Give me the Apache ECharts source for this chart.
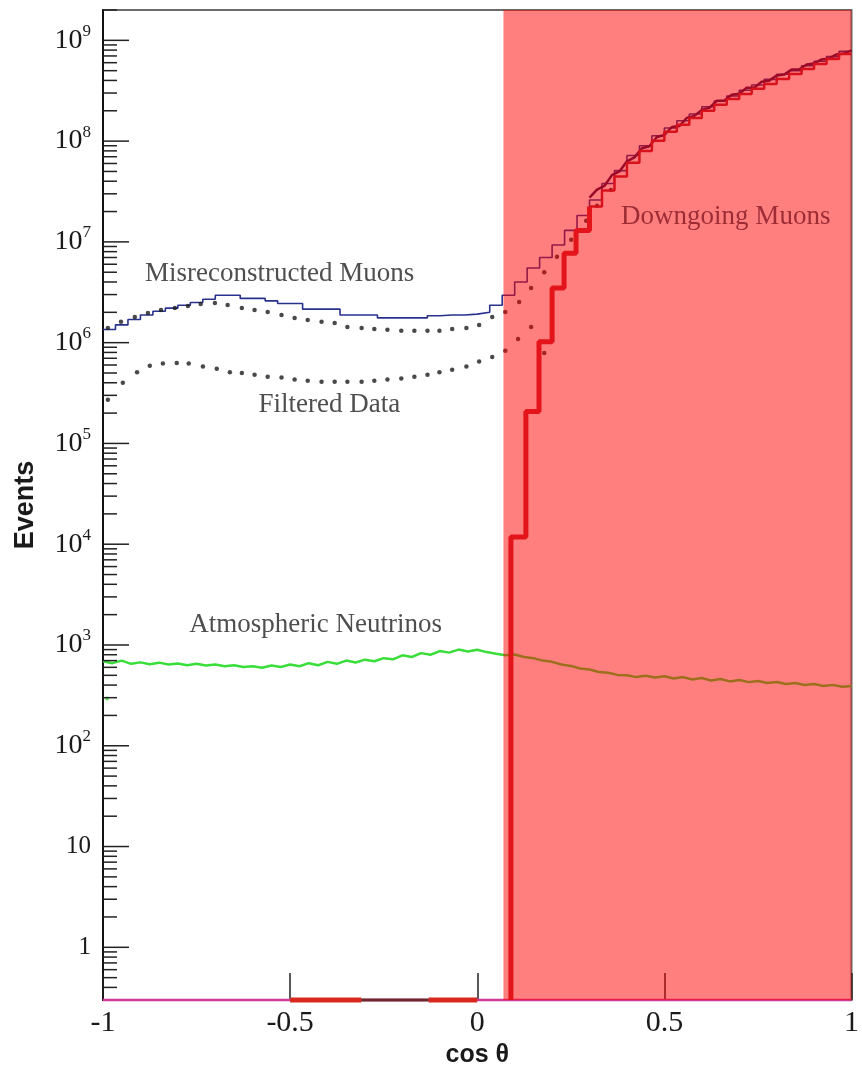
<!DOCTYPE html>
<html>
<head>
<meta charset="utf-8">
<script src="https://cdn.jsdelivr.net/npm/echarts@6/dist/echarts.min.js"></script>
<style>
  html, body { margin: 0; padding: 0; background: #ffffff; }
  #chart { width: 862px; height: 1073px; }
</style>
</head>
<body>
<div id="chart"></div>
<script>
// ---- axis ranges ----
const X_MIN = -1, X_MAX = 1;
const Y_MIN = 0.3, Y_MAX = 2e9;

// ---- Misreconstructed Muons: histogram, 60 equal bins over cos(theta) in [-1, 1] ----
const misrecoMuons = [
  1.35e6, 1.5e6, 1.7e6, 1.88e6, 2.05e6, 2.2e6, 2.35e6, 2.5e6, 2.7e6, 2.95e6,
  2.95e6, 2.75e6, 2.75e6, 2.6e6, 2.45e6, 2.45e6, 2.15e6, 2.15e6, 2.15e6, 1.88e6,
  1.88e6, 1.88e6, 1.76e6, 1.76e6, 1.76e6, 1.76e6, 1.85e6, 1.88e6, 1.88e6, 1.92e6,
  2.0e6, 2.35e6, 2.95e6, 4.0e6, 5.5e6, 7.0e6, 9.3e6, 1.3e7, 1.83e7, 2.6e7,
  3.8e7, 5.1e7, 7.2e7, 9.0e7, 1.13e8, 1.35e8, 1.59e8, 1.86e8, 2.19e8, 2.5e8,
  2.8e8, 3.2e8, 3.6e8, 4.1e8, 4.6e8, 5.0e8, 5.6e8, 6.2e8, 6.9e8, 7.8e8
];

// ---- Downgoing Muons: thick histogram (bin edges + contents) ----
const downgoingEdges = [
  0.09, 0.13, 0.165, 0.2, 0.232, 0.264, 0.3, 0.3333, 0.3667, 0.4, 0.4333, 0.4667, 0.5, 0.5333,
  0.5667, 0.6, 0.6333, 0.6667, 0.7, 0.7333, 0.7667, 0.8, 0.8333, 0.8667, 0.9, 0.9333, 0.9667, 1.0
];
const downgoingMuons = [
  1.18e4, 2.07e5, 1.02e6, 3.48e6, 7.7e6, 1.30e7, 2.25e7, 3.24e7, 4.45e7, 6.1e7, 8.0e7, 1.01e8,
  1.24e8, 1.45e8, 1.70e8, 2.0e8, 2.29e8, 2.62e8, 2.94e8, 3.30e8, 3.69e8, 4.14e8, 4.63e8, 5.19e8,
  5.82e8, 6.52e8, 7.31e8
];
// bins below this cos(theta) are drawn with the heavy stroke
const HEAVY_UNTIL = 0.3;

// ---- Downgoing muon simulation (fine, jagged curve) ----
const downgoingSimX = [
  0.30, 0.32, 0.34, 0.36, 0.38, 0.40, 0.42, 0.44, 0.46, 0.48, 0.50, 0.52, 0.54, 0.56, 0.58, 0.60,
  0.62, 0.64, 0.66, 0.68, 0.70, 0.72, 0.74, 0.76, 0.78, 0.80, 0.82, 0.84, 0.86, 0.88, 0.90, 0.92,
  0.94, 0.96, 0.98, 1.00
];
const downgoingSim = [
  2.75e7, 3.3e7, 3.6e7, 4.6e7, 5.0e7, 6.3e7, 6.9e7, 8.5e7, 8.9e7, 1.10e8, 1.15e8, 1.38e8,
  1.41e8, 1.70e8, 1.78e8, 2.04e8, 2.14e8, 2.51e8, 2.51e8, 2.88e8, 2.95e8, 3.39e8, 3.39e8, 3.89e8,
  3.98e8, 4.47e8, 4.57e8, 5.13e8, 5.13e8, 5.75e8, 5.89e8, 6.46e8, 6.61e8, 7.24e8, 7.41e8, 7.94e8
];

// ---- dotted curves ----
const upperDotsX = [
  -0.987, -0.952, -0.915, -0.880, -0.845, -0.808, -0.773, -0.739, -0.701, -0.667, -0.629, -0.595, -0.560,
  -0.523, -0.488, -0.453, -0.416, -0.381, -0.347, -0.309, -0.275, -0.240, -0.203, -0.168, -0.133, -0.101,
  -0.067, -0.029, 0.005, 0.040, 0.075, 0.112, 0.144, 0.179, 0.213, 0.251, 0.291, 0.320, 0.357
];
const upperDots = [
  1.40e6, 1.61e6, 1.80e6, 1.97e6, 2.11e6, 2.21e6, 2.31e6, 2.42e6, 2.47e6, 2.36e6, 2.21e6, 2.11e6, 2.01e6,
  1.88e6, 1.76e6, 1.68e6, 1.61e6, 1.57e6, 1.43e6, 1.40e6, 1.37e6, 1.34e6, 1.31e6, 1.31e6, 1.31e6, 1.31e6,
  1.37e6, 1.40e6, 1.50e6, 1.80e6, 2.01e6, 2.53e6, 3.48e6, 5.0e6, 7.1e6, 1.05e7, 1.62e7, 2.28e7, 3.28e7
];
const filteredDataX = [
  -0.987, -0.947, -0.909, -0.875, -0.840, -0.803, -0.771, -0.733, -0.696, -0.661, -0.629, -0.595,
  -0.560, -0.523, -0.488, -0.453, -0.416, -0.381, -0.347, -0.309, -0.275, -0.240, -0.203, -0.168,
  -0.133, -0.101, -0.067, -0.029, 0.005, 0.040, 0.075, 0.109, 0.144, 0.179
];
const filteredData = [
  2.72e5, 4.0e5, 5.1e5, 5.9e5, 6.2e5, 6.3e5, 6.2e5, 5.8e5, 5.5e5, 5.1e5, 5.0e5, 4.8e5,
  4.6e5, 4.5e5, 4.3e5, 4.2e5, 4.1e5, 4.1e5, 4.1e5, 4.1e5, 4.2e5, 4.3e5, 4.4e5, 4.6e5,
  4.8e5, 5.1e5, 5.4e5, 5.8e5, 6.5e5, 7.2e5, 8.3e5, 1.09e6, 1.43e6, 7.9e5
];

// ---- Atmospheric Neutrinos: 81 samples, cos(theta) step 0.025 from -1 ----
const atmNeutrinos = [
  690, 660, 700, 650, 672, 645, 668, 640, 655, 630, 650, 625, 640, 615, 630, 605, 615, 595, 625, 605,
  640, 615, 660, 630, 680, 650, 700, 670, 715, 690, 740, 720, 790, 760, 830, 800, 870, 840, 900, 860,
  895, 850, 820, 790, 805, 760, 740, 700, 680, 640, 620, 585, 570, 540, 530, 505, 500, 480, 495, 475,
  490, 465, 480, 455, 470, 445, 460, 435, 450, 428, 440, 420, 430, 410, 420, 400, 410, 392, 402, 385,
  392
];
const atmOutlier = [[-0.989, 295]];

// ---- empty bins resting on the axis floor ----
const redFloorFrom = [-0.5, -0.13];
const redFloorTo = [-0.31, 0.0];
const darkFloorFrom = [-0.31];
const darkFloorTo = [-0.13];

// ---- shaded downgoing region (cos theta range) ----
const downgoingRegion = [[0.07, 1.0]];

// ---- annotations (data coordinates) ----
const annotText = ['Misreconstructed Muons', 'Filtered Data', 'Atmospheric Neutrinos', 'Downgoing Muons'];
const annotX = [-0.528, -0.395, -0.432, 0.664];
const annotY = [4.8e6, 2.43e5, 1.59e3, 1.75e7];
const annotColor = ['#222222', '#222222', '#222222', '#861822'];

// ---------------------------------------------------------------
const SERIF = '"Liberation Serif", "DejaVu Serif", serif';
const SANS = '"Liberation Sans", Arial, sans-serif';

function histPoints(edges, values) {
  const pts = values.map((v, i) => [edges[i], v]);
  pts.push([edges[edges.length - 1], values[values.length - 1]]);
  return pts;
}
const misrecoEdges = misrecoMuons.map((_, i) => X_MIN + (X_MAX - X_MIN) * i / misrecoMuons.length).concat([X_MAX]);

// split the downgoing histogram into its steep (heavy) part and the upper continuation
const splitIdx = downgoingEdges.findIndex(e => e >= HEAVY_UNTIL - 1e-9);
const downHeavy = [[downgoingEdges[0], Y_MIN]].concat(
  histPoints(downgoingEdges.slice(0, splitIdx + 1), downgoingMuons.slice(0, splitIdx)));
downHeavy.push([downgoingEdges[splitIdx], downgoingMuons[splitIdx]]);
const downUpper = histPoints(downgoingEdges.slice(splitIdx), downgoingMuons.slice(splitIdx));

// y-axis ticks: majors at decades, minors at 2..9 x decade
const tickData = [];
for (let n = -1; n <= 9; n++) {
  for (let k = 1; k <= 9; k++) {
    const v = k * Math.pow(10, n);
    if (v >= Y_MIN && v <= Y_MAX) tickData.push([X_MIN, v, k === 1 ? 1 : 0]);
  }
}

function yLabel(v) {
  const e = Math.log10(v);
  const n = Math.round(e);
  if (Math.abs(e - n) > 1e-6 || n < 0) return '';
  if (n === 0) return '{p|1}';
  if (n === 1) return '{p|10}';
  return '{b|10}{s|' + n + '}';
}

const floorSeries = [];
redFloorFrom.forEach((f, i) => floorSeries.push({
  type: 'line', z: 4, clip: false, symbol: 'none', silent: true,
  lineStyle: { color: '#d8281e', width: 5 },
  data: [[f, Y_MIN], [redFloorTo[i], Y_MIN]]
}));
darkFloorFrom.forEach((f, i) => floorSeries.push({
  type: 'line', z: 4, clip: false, symbol: 'none', silent: true,
  lineStyle: { color: '#6e2a2a', width: 3 },
  data: [[f, Y_MIN], [darkFloorTo[i], Y_MIN]]
}));

const chart = echarts.init(document.getElementById('chart'), null, { renderer: 'canvas' });
chart.setOption({
  animation: false,
  backgroundColor: '#ffffff',
  grid: { left: 103, right: 9, top: 10, bottom: 71, show: true, borderColor: '#6a6a6a', borderWidth: 2, backgroundColor: 'transparent' },
  xAxis: {
    type: 'value', min: X_MIN, max: X_MAX, interval: 0.5,
    axisLine: { show: true, onZero: false, lineStyle: { color: '#333', width: 1.5 } },
    axisTick: { show: true, inside: true, length: 27, lineStyle: { color: '#222', width: 1.5 } },
    splitLine: { show: false },
    axisLabel: { fontFamily: SERIF, fontSize: 30, color: '#1a1a1a', margin: 8 },
    name: 'cos θ', nameLocation: 'middle', nameGap: 43,
    nameTextStyle: { fontFamily: SANS, fontWeight: 'bold', fontSize: 25, color: '#1a1a1a' }
  },
  yAxis: {
    type: 'log', logBase: 10, min: Y_MIN, max: Y_MAX, splitNumber: 10,
    axisLine: { show: true, onZero: false, lineStyle: { color: '#111', width: 2 } },
    axisTick: { show: false },
    minorTick: { show: false },
    splitLine: { show: false },
    axisLabel: {
      formatter: yLabel, margin: 12, showMinLabel: false, showMaxLabel: false,
      rich: {
        b: { fontFamily: SERIF, fontSize: 28, color: '#1a1a1a' },
        s: { fontFamily: SERIF, fontSize: 17, color: '#1a1a1a', padding: [0, 0, 18, 0] },
        p: { fontFamily: SERIF, fontSize: 25, color: '#1a1a1a' }
      }
    },
    name: 'Events', nameLocation: 'middle', nameGap: 64,
    nameTextStyle: { fontFamily: SANS, fontWeight: 'bold', fontSize: 27, color: '#1a1a1a' }
  },
  series: [
    // y-axis major/minor tick marks
    {
      type: 'custom', z: 3, silent: true, clip: false,
      encode: { x: 0, y: 1 },
      data: tickData,
      renderItem: function (params, api) {
        const p = api.coord([api.value(0), api.value(1)]);
        const len = api.value(2) ? 26 : 14;
        return { type: 'line', shape: { x1: p[0], y1: p[1], x2: p[0] + len, y2: p[1] },
                 style: { stroke: '#222', lineWidth: 1.5 } };
      }
    },
    // atmospheric neutrinos
    {
      type: 'line', z: 2, symbol: 'none', silent: true,
      lineStyle: { color: '#3ade3a', width: 2.5 },
      data: atmNeutrinos.map((v, i) => [X_MIN + i * 0.025, v])
    },
    {
      type: 'scatter', z: 2, symbolSize: 4, itemStyle: { color: '#3ade3a' }, silent: true,
      data: atmOutlier
    },
    // misreconstructed muons
    {
      type: 'line', z: 3, symbol: 'none', step: 'end', silent: true,
      lineStyle: { color: '#28328c', width: 1.6 },
      data: histPoints(misrecoEdges, misrecoMuons)
    },
    // downgoing muon simulation
    {
      type: 'line', z: 3, symbol: 'none', silent: true,
      lineStyle: { color: '#3a1450', width: 2.5 },
      data: downgoingSimX.map((x, i) => [x, downgoingSim[i]])
    },
    // dotted curves
    {
      type: 'scatter', z: 3, symbolSize: 4.5, itemStyle: { color: '#1c1c1c' }, silent: true,
      data: upperDotsX.map((x, i) => [x, upperDots[i]])
    },
    {
      type: 'scatter', z: 3, symbolSize: 4.5, itemStyle: { color: '#1c1c1c' }, silent: true,
      data: filteredDataX.map((x, i) => [x, filteredData[i]])
    },
    // floor line
    {
      type: 'line', z: 4, clip: false, symbol: 'none', silent: true,
      lineStyle: { color: '#cf3a96', width: 2.5 },
      data: [[X_MIN, Y_MIN], [X_MAX, Y_MIN]]
    },
    ...floorSeries,
    // translucent red shading over the downgoing region
    {
      type: 'custom', z: 5, silent: true, clip: true,
      encode: { x: [0, 1] },
      data: downgoingRegion,
      renderItem: function (params, api) {
        const p0 = api.coord([api.value(0), Y_MAX]);
        const p1 = api.coord([api.value(1), Y_MIN]);
        return { type: 'rect', shape: { x: p0[0], y: p0[1], width: p1[0] - p0[0], height: p1[1] - p0[1] },
                 style: { fill: 'rgba(255, 0, 0, 0.5)' } };
      }
    },
    // downgoing muons (histogram): heavy steep part, lighter continuation
    {
      type: 'line', z: 6, symbol: 'none', step: 'end', silent: true,
      lineStyle: { color: '#e3141a', width: 5 },
      data: downHeavy
    },
    {
      type: 'line', z: 6, symbol: 'none', step: 'end', silent: true,
      lineStyle: { color: '#d8121c', width: 2.5 },
      data: downUpper
    },
    // annotations
    {
      type: 'scatter', z: 8, symbolSize: 0, silent: true,
      label: { show: true, position: 'inside', formatter: '{b}', fontFamily: SERIF, fontSize: 27 },
      data: annotText.map((t, i) => ({ name: t, value: [annotX[i], annotY[i]], label: { color: annotColor[i] } }))
    }
  ]
});
</script>
</body>
</html>
